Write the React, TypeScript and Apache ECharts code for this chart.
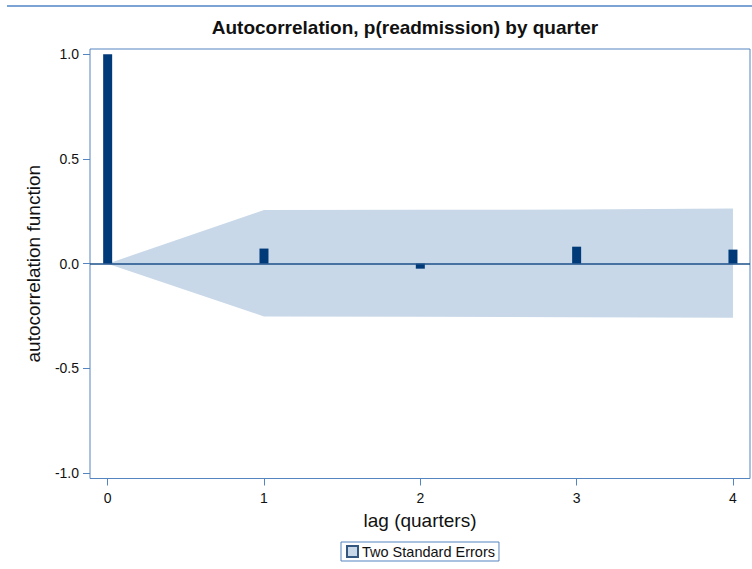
import React, { useEffect, useRef } from "react";
import * as echarts from "echarts";

// Autocorrelation by lag (quarters)
const lags = [0, 1, 2, 3, 4];
const acf = [1.0, 0.072, -0.024, 0.081, 0.067];
// Two standard error band limits per lag
const upperBand = [0, 0.256, 0.257, 0.258, 0.263];
const lowerBand = [0, -0.252, -0.254, -0.256, -0.258];
const yTicks = [-1.0, -0.5, 0.0, 0.5, 1.0];

const FONT = "Liberation Sans, Arial, sans-serif";
const FRAME = "#5585c0";
const BAR = "#003a78";
const BAND = "#c8d8e8";

export default function App() {
  const ref = useRef<HTMLDivElement>(null);

  useEffect(() => {
    document.body.style.margin = "0";
    const chart = echarts.init(ref.current!, undefined, { renderer: "svg" });

    const bandData = lags.map((l, i) => [l, upperBand[i], lowerBand[i]]);

    chart.setOption({
      animation: false,
      backgroundColor: "#ffffff",
      textStyle: { fontFamily: FONT },
      title: {
        text: "Autocorrelation, p(readmission) by quarter",
        left: 400,
        textAlign: "center",
        top: 13,
        textStyle: { fontFamily: FONT, fontSize: 19, fontWeight: "bold", color: "#111" },
      },
      graphic: [
        {
          type: "line",
          shape: { x1: 7, y1: 6, x2: 752, y2: 6 },
          style: { stroke: "#4f86c6", lineWidth: 1.3 },
        },
      ],
      legend: {
        left: 341,
        top: 542,
        data: [{ name: "Two Standard Errors", icon: "rect" }],
        itemWidth: 11,
        itemHeight: 11,
        itemGap: 6,
        padding: [2, 4, 2, 5],
        borderColor: FRAME,
        borderWidth: 1,
        borderRadius: 0,
        textStyle: { fontFamily: FONT, fontSize: 14.5, color: "#111", padding: [0, 0, 0, -1] },
      },
      grid: { left: 90, right: 2, top: 49, bottom: 90.5, show: true, borderColor: FRAME, borderWidth: 1 },
      xAxis: {
        type: "value",
        min: -0.113,
        max: 4.109,
        name: "lag (quarters)",
        nameLocation: "middle",
        nameGap: 32,
        nameTextStyle: { fontFamily: FONT, fontSize: 19, color: "#111" },
        splitLine: { show: false },
        axisLine: { show: false, onZero: false },
        axisTick: { show: true, length: 7, lineStyle: { color: FRAME }, customValues: lags },
        axisLabel: {
          fontFamily: FONT,
          fontSize: 14,
          color: "#111",
          margin: 12,
          customValues: lags,
          formatter: (v: number) => String(v),
        },
      },
      yAxis: {
        type: "value",
        min: -1.026,
        max: 1.025,
        name: "autocorrelation function",
        nameLocation: "middle",
        nameGap: 47,
        nameTextStyle: { fontFamily: FONT, fontSize: 19, color: "#111" },
        splitLine: { show: false },
        axisLine: { show: false, onZero: false },
        axisTick: { show: true, length: 7, lineStyle: { color: FRAME }, customValues: yTicks },
        axisLabel: {
          fontFamily: FONT,
          fontSize: 14,
          color: "#111",
          margin: 11,
          customValues: yTicks,
          formatter: (v: number) => v.toFixed(1),
        },
      },
      series: [
        {
          name: "Two Standard Errors",
          type: "custom",
          data: bandData,
          itemStyle: { color: BAND, borderColor: "#34577f", borderWidth: 1 },
          renderItem: (params: any, api: any) => {
            if (params.dataIndex !== 0) return null;
            const top = lags.map((l, i) => api.coord([l, upperBand[i]]));
            const bottom = lags.map((l, i) => api.coord([l, lowerBand[i]])).reverse();
            return {
              type: "polygon",
              shape: { points: top.concat(bottom) },
              style: { fill: BAND, stroke: "none" },
            };
          },
          z: 1,
        },
        {
          name: "ACF",
          type: "bar",
          data: lags.map((l, i) => [l, acf[i]]),
          barWidth: 9,
          itemStyle: { color: BAR },
          z: 3,
          markLine: {
            silent: true,
            symbol: "none",
            label: { show: false },
            lineStyle: { color: "#1d4f8a", width: 1.5, type: "solid" },
            data: [{ yAxis: 0 }],
          },
        },
      ],
    });

    return () => chart.dispose();
  }, []);

  return <div ref={ref} style={{ width: 752, height: 569 }} />;
}
